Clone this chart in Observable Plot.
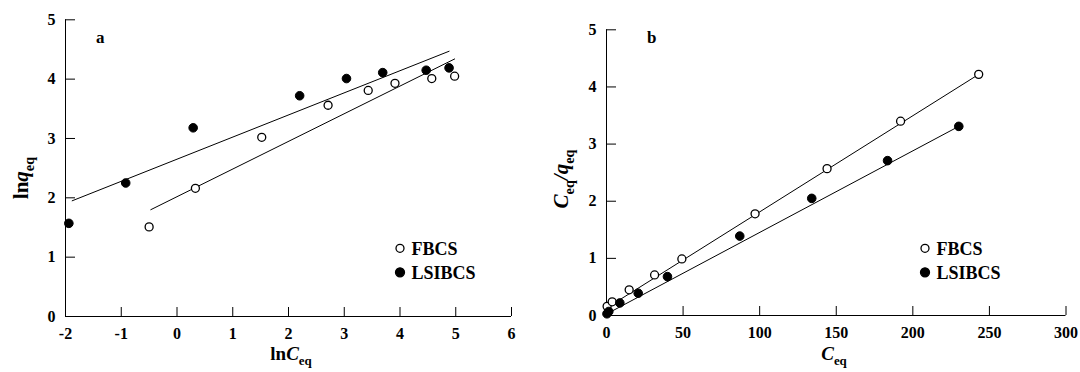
<!DOCTYPE html>
<html><head><meta charset="utf-8">
<script src="https://cdn.jsdelivr.net/npm/d3@7"></script>
<script src="https://cdn.jsdelivr.net/npm/@observablehq/plot@0.6"></script>
<style>
body{margin:0;background:#fff;}
#wrap{position:relative;width:1080px;height:372px;overflow:hidden;}
#wrap svg{position:absolute;top:0;}
</style></head><body><div id="wrap"></div>
<script>
const seriesNames = ["FBCS", "LSIBCS"];
// Panel a: ln qeq vs ln Ceq
const aFbcsX = [-0.50, 0.33, 1.52, 2.71, 3.43, 3.91, 4.57, 4.98];
const aFbcsY = [1.51, 2.16, 3.02, 3.56, 3.81, 3.93, 4.01, 4.05];
const aLsiX  = [-1.94, -0.92, 0.29, 2.20, 3.04, 3.69, 4.47, 4.88];
const aLsiY  = [1.57, 2.25, 3.18, 3.72, 4.01, 4.11, 4.15, 4.19];
const aFbcsFitX = [-0.47, 4.98], aFbcsFitY = [1.80, 4.34];
const aLsiFitX  = [-1.88, 4.88], aLsiFitY  = [1.95, 4.47];
const aXTicks = [-2, -1, 0, 1, 2, 3, 4, 5, 6];
const aYTicks = [0, 1, 2, 3, 4, 5];
// Panel b: Ceq/qeq vs Ceq
const bFbcsX = [0.4, 3.7, 14.8, 31.4, 49.2, 97, 144, 192, 243];
const bFbcsY = [0.16, 0.24, 0.45, 0.71, 0.99, 1.78, 2.57, 3.40, 4.22];
const bLsiX  = [0.3, 1.5, 8.7, 20.7, 39.8, 87, 134, 183.5, 230];
const bLsiY  = [0.03, 0.07, 0.22, 0.39, 0.68, 1.39, 2.05, 2.71, 3.31];
const bFbcsFitX = [0, 243], bFbcsFitY = [0.13, 4.22];
const bLsiFitX  = [0.3, 230], bLsiFitY  = [0.03, 3.31];
const bXTicks = [0, 50, 100, 150, 200, 250, 300];
const bYTicks = [0, 1, 2, 3, 4, 5];

const FONT = "'Liberation Serif', 'Times New Roman', serif";
const toPts = (xs, ys) => xs.map((x, i) => ({x, y: ys[i]}));

function panel({xDomain, xTicks, yTicks, fbcs, lsi, fbcsFit, lsiFit, m}) {
  const svg = Plot.plot({
    width: 540, height: 372,
    marginLeft: m.left, marginRight: m.right, marginTop: m.top, marginBottom: m.bottom,
    style: {fontFamily: FONT, fontSize: "16px", fontWeight: "bold", color: "black", background: "transparent", overflow: "visible"},
    x: {domain: xDomain, label: null},
    y: {domain: [0, 5], label: null},
    marks: [
      Plot.ruleX([xDomain[0]], {stroke: "black", strokeWidth: 1}),
      Plot.ruleY([0], {stroke: "black", strokeWidth: 1}),
      Plot.axisX(xTicks, {tickSize: -9, tickPadding: 20, tickFormat: d => String(d), fontSize: 16, stroke: "black"}),
      Plot.axisY(yTicks, {tickSize: -10, tickPadding: 20, tickFormat: d => String(d), fontSize: 16, stroke: "black"}),
      Plot.line(fbcsFit, {x: "x", y: "y", stroke: "black", strokeWidth: 1}),
      Plot.line(lsiFit, {x: "x", y: "y", stroke: "black", strokeWidth: 1}),
      Plot.dot(fbcs, {x: "x", y: "y", r: 4, fill: "white", stroke: "black", strokeWidth: 1.3}),
      Plot.dot(lsi, {x: "x", y: "y", r: 4.3, fill: "black", stroke: "black", strokeWidth: 1})
    ]
  });
  d3.select(svg).selectAll("text")
    .style("font-size", "16px").style("font-weight", "bold").style("font-family", FONT).style("fill", "black");
  return svg;
}

function addLabel(svg, x, y, parts, {rotate = 0, size = 18} = {}) {
  const t = d3.select(svg).append("text")
    .attr("transform", `translate(${x},${y}) rotate(${rotate})`)
    .style("text-anchor", "middle").style("font-size", size + "px")
    .style("font-family", FONT).style("font-weight", "bold").style("fill", "black");
  let shifted = false;
  const sh = size * 0.28;
  for (const p of parts) {
    const s = t.append("tspan").text(p.t);
    if (p.italic) s.style("font-style", "italic");
    if (p.sub) { s.style("font-size", (size * 0.68) + "px").attr("dy", shifted ? 0 : sh); shifted = true; }
    else if (shifted) { s.attr("dy", -sh); shifted = false; }
  }
}

function addLegend(svg, x, y) {
  const g = d3.select(svg).append("g");
  seriesNames.forEach((name, i) => {
    const cy = y + i * 24;
    g.append("circle").attr("cx", x).attr("cy", cy).attr("r", i === 0 ? 4 : 4.5)
      .attr("fill", i === 0 ? "white" : "black").attr("stroke", "black").attr("stroke-width", 1.3);
    g.append("text").attr("x", x + 11.5).attr("y", cy + 6.3).text(name)
      .style("text-anchor", "start")
      .style("font-family", FONT).style("font-weight", "bold").style("font-size", "18px").style("fill", "black");
  });
}

function addTag(svg, x, y, s) {
  d3.select(svg).append("text").attr("x", x).attr("y", y).text(s)
    .style("text-anchor", "start")
    .style("font-family", FONT).style("font-weight", "bold").style("font-size", "17px").style("fill", "black");
}

const wrap = document.getElementById("wrap");

const svgA = panel({
  xDomain: [-2, 6], xTicks: aXTicks, yTicks: aYTicks,
  fbcs: toPts(aFbcsX, aFbcsY), lsi: toPts(aLsiX, aLsiY),
  fbcsFit: toPts(aFbcsFitX, aFbcsFitY), lsiFit: toPts(aLsiFitX, aLsiFitY),
  m: {left: 65, right: 29, top: 19.3, bottom: 56}
});
svgA.style.left = "0px";
wrap.appendChild(svgA);
addLabel(svgA, 291, 360, [{t: "ln"}, {t: "C", italic: true}, {t: "eq", sub: true}], {size: 19});
addLabel(svgA, 28, 178, [{t: "ln"}, {t: "q", italic: true}, {t: "eq", sub: true}], {rotate: -90, size: 21});
addLegend(svgA, 400, 248.3);
addTag(svgA, 96, 43.3, "a");

const svgB = panel({
  xDomain: [0, 300], xTicks: bXTicks, yTicks: bYTicks,
  fbcs: toPts(bFbcsX, bFbcsY), lsi: toPts(bLsiX, bLsiY),
  fbcsFit: toPts(bFbcsFitX, bFbcsFitY), lsiFit: toPts(bLsiFitX, bLsiFitY),
  m: {left: 66, right: 14.5, top: 29.3, bottom: 57}
});
svgB.style.left = "540px";
wrap.appendChild(svgB);
addLabel(svgB, 294, 360, [{t: "C", italic: true}, {t: "eq", sub: true}], {size: 19});
addLabel(svgB, 28, 179, [{t: "C", italic: true}, {t: "eq", sub: true}, {t: "/", italic: true}, {t: "q", italic: true}, {t: "eq", sub: true}], {rotate: -90, size: 21});
addLegend(svgB, 385, 248.3);
addTag(svgB, 107, 43.3, "b");
</script>
</body></html>
